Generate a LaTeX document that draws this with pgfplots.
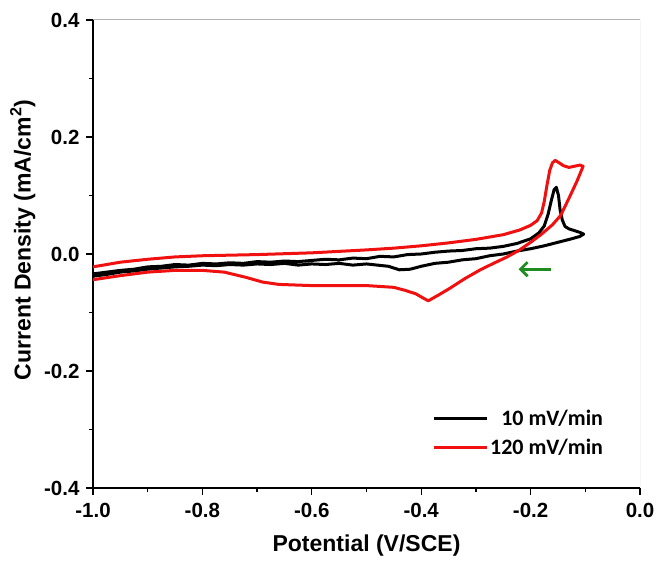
\documentclass[border=0pt]{standalone}
\usepackage{fontspec}
\setmainfont{Liberation Sans}
\newfontfamily\legfont{Carlito}
\usepackage{pgfplots}
\pgfplotsset{compat=1.18}
\usetikzlibrary{arrows.meta}
\definecolor{cvred}{HTML}{F01010}
\definecolor{arrowgreen}{HTML}{1E8C1E}

% 120 mV/min scan: anodic sweep then cathodic return
\pgfplotstableread{
x y
-1.000 -0.022
-0.950 -0.014
-0.900 -0.009
-0.850 -0.005
-0.800 -0.003
-0.700 -0.001
-0.600 0.002
-0.500 0.007
-0.450 0.010
-0.400 0.014
-0.350 0.019
-0.300 0.025
-0.250 0.033
-0.220 0.041
-0.200 0.049
-0.188 0.057
-0.180 0.070
-0.175 0.090
-0.170 0.118
-0.165 0.143
-0.160 0.156
-0.155 0.160
-0.148 0.156
-0.140 0.151
-0.130 0.148
-0.120 0.150
-0.110 0.152
-0.104 0.150
-0.115 0.125
-0.130 0.095
-0.145 0.066
-0.160 0.050
-0.180 0.034
-0.200 0.020
-0.220 0.007
-0.243 -0.005
-0.270 -0.017
-0.292 -0.027
-0.320 -0.042
-0.350 -0.060
-0.370 -0.071
-0.387 -0.080
-0.395 -0.076
-0.410 -0.068
-0.430 -0.062
-0.450 -0.057
-0.500 -0.054
-0.600 -0.054
-0.660 -0.052
-0.690 -0.048
-0.720 -0.040
-0.760 -0.031
-0.800 -0.028
-0.850 -0.028
-0.900 -0.031
-0.950 -0.037
-1.000 -0.044
}\redscan

% 10 mV/min scan
\pgfplotstableread{
x y
-1.000 -0.034
-0.975 -0.031
-0.950 -0.028
-0.925 -0.026
-0.900 -0.022
-0.875 -0.021
-0.850 -0.018
-0.825 -0.019
-0.800 -0.016
-0.775 -0.017
-0.750 -0.015
-0.725 -0.016
-0.700 -0.013
-0.675 -0.014
-0.650 -0.012
-0.625 -0.013
-0.600 -0.011
-0.575 -0.009
-0.550 -0.010
-0.525 -0.007
-0.500 -0.008
-0.475 -0.004
-0.450 -0.005
-0.425 -0.001
-0.400 0.000
-0.375 0.003
-0.350 0.005
-0.325 0.006
-0.300 0.009
-0.275 0.010
-0.250 0.013
-0.225 0.018
-0.200 0.026
-0.185 0.036
-0.175 0.048
-0.168 0.068
-0.162 0.092
-0.157 0.110
-0.153 0.114
-0.149 0.100
-0.146 0.075
-0.142 0.058
-0.137 0.047
-0.130 0.043
-0.120 0.040
-0.110 0.037
-0.103 0.034
-0.110 0.030
-0.125 0.026
-0.150 0.020
-0.175 0.014
-0.200 0.009
-0.225 0.005
-0.250 0.000
-0.275 -0.003
-0.300 -0.008
-0.325 -0.010
-0.350 -0.014
-0.375 -0.016
-0.400 -0.021
-0.420 -0.026
-0.440 -0.027
-0.460 -0.021
-0.480 -0.019
-0.500 -0.017
-0.525 -0.019
-0.550 -0.016
-0.575 -0.018
-0.600 -0.017
-0.625 -0.019
-0.650 -0.016
-0.675 -0.018
-0.700 -0.017
-0.725 -0.019
-0.750 -0.018
-0.775 -0.020
-0.800 -0.019
-0.825 -0.021
-0.850 -0.022
-0.875 -0.024
-0.900 -0.026
-0.925 -0.029
-0.950 -0.031
-0.975 -0.035
-1.000 -0.038
}\blackscan

\begin{document}
\begin{tikzpicture}
\begin{axis}[
  scale only axis,width=547pt,height=468pt,
  xmin=-1.0,xmax=0.0,ymin=-0.4,ymax=0.4,
  axis x line*=bottom,axis y line*=left,
  axis line style={line width=1.6pt,-},
  xtick distance=0.2,ytick distance=0.2,minor tick num=1,
  tick align=outside,
  major tick length=7pt,minor tick length=4pt,
  every tick/.style={black,line width=1.3pt},
  tick label style={font=\fontsize{20.5}{24}\selectfont\bfseries},
  xticklabel style={yshift=-5pt},
  yticklabel style={xshift=-3pt},
  /pgf/number format/assume math mode=true,
  /pgf/number format/fixed,/pgf/number format/fixed zerofill,
  /pgf/number format/precision=1,
  xlabel={Potential (V/SCE)},
  ylabel={Current Density (mA/cm\textsuperscript{2})},
  label style={font=\fontsize{23}{27}\selectfont\bfseries},
  xlabel style={yshift=-10pt},
  ylabel style={at={(ticklabel cs:0.53)},yshift=2pt},
  legend style={at={(0.616,0.175)},anchor=north west,draw=none,fill=none,
    font=\legfont\fontsize{22}{26}\selectfont\bfseries,row sep=8pt,
    inner sep=2pt},
  legend cell align=right,
  legend image code/.code={\draw[#1,line width=3pt] (0pt,0pt) -- (53pt,0pt);},
  /tikz/every even column/.append style={column sep=0pt},
  clip=true,
]
\addplot[black,line width=3pt,line join=round] table[x=x,y=y] {\blackscan};
\addlegendentry{10 mV/min}
\addplot[cvred,line width=3pt,line join=round] table[x=x,y=y] {\redscan};
\addlegendentry{120 mV/min}
\draw[gray!60,line width=1pt] (rel axis cs:0,1) -- (rel axis cs:1,1) -- (rel axis cs:1,0);
\draw[arrowgreen,line width=2.8pt,-{Straight Barb[length=7pt,width=14pt]}]
  (axis cs:-0.163,-0.026) -- (axis cs:-0.222,-0.026);
\end{axis}
\pgfresetboundingbox
\path ([shift={(-93pt,-73pt)}]current axis.south west)
  rectangle ([shift={(18pt,20pt)}]current axis.north east);
\end{tikzpicture}
\end{document}
